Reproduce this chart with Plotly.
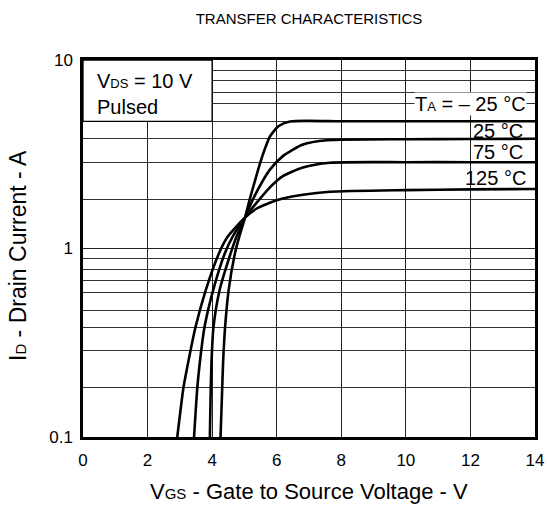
import math
import plotly.graph_objects as go

# ---- data ----
x_m25 = [4.26, 4.30, 4.34, 4.40, 4.51, 4.71, 4.85, 5.02, 5.17, 5.33, 5.48, 5.64, 5.79, 6.05, 6.41, 8.0, 10.0, 12.0, 14.0]
y_m25 = [0.10, 0.158, 0.25, 0.38, 0.60, 0.95, 1.17, 1.46, 1.84, 2.30, 2.82, 3.40, 3.93, 4.45, 4.72, 4.73, 4.73, 4.73, 4.73]

x_25 = [3.93, 3.95, 3.98, 4.04, 4.23, 4.58, 4.76, 5.02, 5.17, 5.42, 5.79, 6.19, 6.81, 7.56, 10.0, 12.0, 14.0]
y_25 = [0.10, 0.158, 0.25, 0.38, 0.60, 0.95, 1.16, 1.46, 1.68, 2.06, 2.62, 3.09, 3.56, 3.75, 3.80, 3.81, 3.82]

x_75 = [3.44, 3.54, 3.62, 3.76, 4.03, 4.40, 4.64, 5.02, 5.38, 5.79, 6.19, 6.81, 7.65, 10.0, 12.0, 14.0]
y_75 = [0.10, 0.182, 0.25, 0.38, 0.60, 0.95, 1.16, 1.46, 1.75, 2.11, 2.42, 2.69, 2.85, 2.87, 2.87, 2.87]

x_125 = [2.92, 3.11, 3.26, 3.48, 3.80, 4.22, 4.49, 5.02, 5.38, 5.79, 6.19, 6.81, 7.65, 10.0, 12.0, 14.0]
y_125 = [0.10, 0.182, 0.25, 0.38, 0.60, 0.95, 1.16, 1.46, 1.63, 1.75, 1.84, 1.93, 2.00, 2.04, 2.06, 2.07]

x_ticks = [0, 2, 4, 6, 8, 10, 12, 14]
y_ticks = [0.1, 1, 10]
y_ticktext = ["0.1", "1", "10"]
y_minor = [0.182, 0.287, 0.381, 0.471, 0.587, 0.675, 0.777, 0.885,
           1.82, 2.87, 3.82, 4.72, 5.85, 6.75, 7.77, 8.85]

FONT = "Liberation Sans"

fig = go.Figure()
for xs, ys in [(x_m25, y_m25), (x_25, y_25), (x_75, y_75), (x_125, y_125)]:
    fig.add_trace(go.Scatter(x=xs, y=ys, mode="lines",
                             line=dict(color="black", width=2.6, shape="spline", smoothing=0.6),
                             showlegend=False, hoverinfo="skip"))

fig.update_layout(
    width=548, height=506,
    margin=dict(l=83, r=13, t=60, b=69),
    paper_bgcolor="white", plot_bgcolor="white",
    font=dict(family=FONT, color="black", size=16),
    title=dict(text="TRANSFER CHARACTERISTICS", x=309/548, xanchor="center",
               y=1 - 19/506, yref="container", yanchor="middle",
               font=dict(size=15, family=FONT, color="black")),
)

fig.update_xaxes(range=[0, 14], tickvals=x_ticks, showgrid=True, gridcolor="#222", gridwidth=1,
                 showline=True, linecolor="black", linewidth=2.5, mirror=True,
                 ticks="", ticklabelstandoff=6, zeroline=False, automargin=False,
                 tickfont=dict(size=17, family=FONT, color="black"))
fig.update_yaxes(type="log", range=[-1, 1], tickvals=y_ticks, ticktext=y_ticktext,
                 showgrid=True, gridcolor="#222", gridwidth=1,
                 minor=dict(tickvals=y_minor, showgrid=True, gridcolor="#333", gridwidth=1, ticks=""),
                 showline=True, linecolor="black", linewidth=2.5, mirror=True,
                 ticks="", ticklabelstandoff=4, zeroline=False, automargin=False,
                 tickfont=dict(size=17, family=FONT, color="black"))

# condition box
fig.add_shape(type="rect", xref="x", yref="y", x0=0, x1=4, y0=4.72, y1=10,
              fillcolor="white", line=dict(color="black", width=1.3), layer="above")

sub = "<span style='font-size:%dpx'>%s</span>"
anns = [
    dict(text="V" + sub % (13, "DS") + " = 10 V", x=0.40, y=7.7, xanchor="left"),
    dict(text="Pulsed", x=0.40, y=5.62, xanchor="left"),
    dict(text="T" + sub % (13, "A") + " = – 25 °C", x=13.75, y=5.85, xanchor="right", bgcolor="white"),
    dict(text="25 °C", x=12.06, y=4.2, xanchor="left"),
    dict(text="75 °C", x=12.06, y=3.25, xanchor="left"),
    dict(text="125 °C", x=13.75, y=2.38, xanchor="right"),
]
for a in anns:
    yv = math.log10(a.pop("y"))
    fig.add_annotation(xref="x", yref="y", showarrow=False, yanchor="middle",
                       font=dict(size=20, family=FONT, color="black"), borderpad=0,
                       y=yv, **a)

fig.add_annotation(text="V" + sub % (15, "GS") + " - Gate to Source Voltage - V",
                   xref="paper", yref="paper", x=309/452 - 83/452, y=0, yanchor="middle", xanchor="center",
                   yshift=-54, showarrow=False, font=dict(size=22, family=FONT, color="black"))
fig.add_annotation(text="I" + sub % (15, "D") + " - Drain Current - A",
                   xref="paper", yref="paper", x=0, y=(437 - 256) / 377, xanchor="center", yanchor="middle",
                   xshift=-65, textangle=-90, showarrow=False,
                   font=dict(size=23, family=FONT, color="black"))

fig.write_html("out.html", config={"displayModeBar": False},
               post_script="document.body.style.margin='0';")
